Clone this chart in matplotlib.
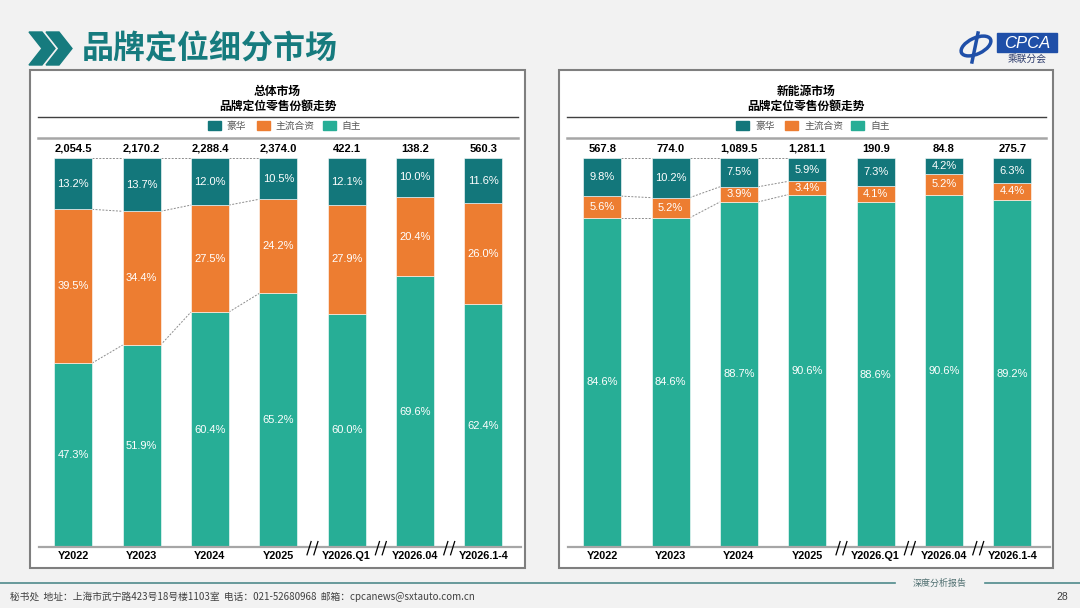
import numpy as np
import matplotlib.pyplot as plt
from matplotlib.patches import Rectangle, Polygon, Ellipse

plt.rcParams['font.family'] = ['Liberation Sans', 'Noto Sans CJK SC', 'DejaVu Sans']

# 数据
periods = ['Y2022', 'Y2023', 'Y2024', 'Y2025', 'Y2026.Q1', 'Y2026.04', 'Y2026.1-4']
series_names = ['豪华', '主流合资', '自主']

total_lux = [13.2, 13.7, 12.0, 10.5, 12.1, 10.0, 11.6]
total_jv = [39.5, 34.4, 27.5, 24.2, 27.9, 20.4, 26.0]
total_own = [47.3, 51.9, 60.4, 65.2, 60.0, 69.6, 62.4]
total_vol = [2054.5, 2170.2, 2288.4, 2374.0, 422.1, 138.2, 560.3]

nev_lux = [9.8, 10.2, 7.5, 5.9, 7.3, 4.2, 6.3]
nev_jv = [5.6, 5.2, 3.9, 3.4, 4.1, 5.2, 4.4]
nev_own = [84.6, 84.6, 88.7, 90.6, 88.6, 90.6, 89.2]
nev_vol = [567.8, 774.0, 1089.5, 1281.1, 190.9, 84.8, 275.7]

C_LUX = '#13777B'
C_JV = '#ED7D31'
C_OWN = '#27AE96'
TEAL = '#167B7E'

W, H = 1080, 608
fig = plt.figure(figsize=(W / 100, H / 100), dpi=100)
fig.patch.set_facecolor('#f2f2f2')

# 像素坐标的背景层
bg = fig.add_axes([0, 0, 1, 1])
bg.set_xlim(0, W)
bg.set_ylim(H, 0)
bg.axis('off')

# 标题和箭头
for dx in (0, 17):
    bg.add_patch(Polygon([(29 + dx, 32), (42 + dx, 32), (55 + dx, 48.5), (42 + dx, 65),
                          (29 + dx, 65), (42 + dx, 48.5)], closed=True, color=TEAL))
bg.text(82, 49, '品牌定位细分市场', fontsize=23, fontweight='bold', color=TEAL,
        va='center', ha='left', family=['Noto Sans CJK SC'])

# logo
bg.add_patch(Ellipse((976, 46), 32, 16, angle=-25, fill=False, ec='#1f4fa8', lw=2.5))
bg.plot([978, 972], [33, 62], color='#1f4fa8', lw=2.5)
bg.add_patch(Rectangle((997, 33), 60, 19, color='#1f4fa8'))
bg.text(1027, 43, 'CPCA', fontsize=12, color='white', style='italic', ha='center', va='center')
bg.text(1027, 59, '乘联分会', fontsize=7, color='#2b3a6b', ha='center', va='center',
        family=['Noto Sans CJK SC'])

# 底部
bg.plot([0, 895], [583, 583], color='#4f8a8b', lw=1.2)
bg.plot([985, W], [583, 583], color='#4f8a8b', lw=1.2)
bg.text(940, 583, '深度分析报告', fontsize=6.5, color='#4f6f70', ha='center', va='center',
        family=['Noto Sans CJK SC'])
bg.text(10, 597, '秘书处  地址：上海市武宁路423号18号楼1103室  电话：021-52680968  邮箱：cpcanews@sxtauto.com.cn',
        fontsize=7, color='#404040', ha='left', va='center', family=['Noto Sans CJK SC', 'DejaVu Sans'])
bg.text(1068, 597, '28', fontsize=7.5, color='#404040', ha='right', va='center')


def panel(x0, x1, title, lux, jv, own, vol):
    bg.add_patch(Rectangle((x0, 70), x1 - x0, 498, fc='white', ec='#7f7f7f', lw=1.5))
    cx = (x0 + x1) / 2
    bg.text(cx, 91, title, fontsize=8.5, fontweight='bold', ha='center', va='center',
            family=['Noto Sans CJK SC'])
    bg.text(cx, 106.5, '品牌定位零售份额走势', fontsize=8.5, fontweight='bold', ha='center',
            va='center', family=['Noto Sans CJK SC'])
    bg.plot([x0 + 8, x1 - 7], [117, 117], color='#404040', lw=1)
    bg.plot([x0 + 8, x1 - 7], [138, 138], color='#a6a6a6', lw=1.8)
    # 图例
    lx = cx - 70
    for name, col, off in zip(series_names, [C_LUX, C_JV, C_OWN], [0, 49, 115]):
        bg.add_patch(Rectangle((lx + off, 121), 13, 9, color=col))
        bg.text(lx + off + 19, 125.5, name, fontsize=7, color='#595959', va='center',
                family=['Noto Sans CJK SC'])

    ax = fig.add_axes([(x0 + 9) / W, (H - 547) / H, 482 / W, 389 / H])
    ax.set_xlim(-0.5, 6.55)
    ax.set_ylim(0, 100)
    x = np.arange(len(periods))
    bw = 0.555
    bottoms = np.zeros(len(periods))
    for vals, col in [(own, C_OWN), (jv, C_JV), (lux, C_LUX)]:
        vals = np.array(vals)
        ax.bar(x, vals, bw, bottom=bottoms, color=col, ec='white', lw=0.4, zorder=2)
        for xi, b, v in zip(x, bottoms, vals):
            ax.text(xi, b + v / 2, f'{v:.1f}%', color='white', fontsize=8,
                    ha='center', va='center', zorder=3)
        bottoms = bottoms + vals
    for xi, v in zip(x, vol):
        ax.annotate(f'{v:,.1f}', (xi, 100), xytext=(0, 3), textcoords='offset points',
                    ha='center', va='bottom', fontsize=8, fontweight='bold')
    # 连接虚线
    b1 = np.array(own)
    b2 = b1 + np.array(jv)
    for i in range(3):
        for lev in (b1, b2, np.full(len(periods), 100.0)):
            ax.plot([i + bw / 2, i + 1 - bw / 2], [lev[i], lev[i + 1]], color='#8c8c8c',
                    lw=0.7, ls=(0, (2, 1.5)), zorder=1)
    # 断轴标记
    tr = ax.get_xaxis_transform()
    for xb in (3.5, 4.5, 5.5):
        for d in (-0.05, 0.05):
            ax.plot([xb + d - 0.03, xb + d + 0.03], [-0.02, 0.014], color='black', lw=0.9,
                    transform=tr, clip_on=False, zorder=4)
    ax.set_xticks(x)
    ax.set_xticklabels(periods, fontsize=7.8, fontweight='bold')
    ax.tick_params(axis='x', length=0, pad=3)
    ax.set_yticks([])
    for s in ('top', 'right', 'left'):
        ax.spines[s].set_visible(False)
    ax.spines['bottom'].set_color('#a6a6a6')
    ax.spines['bottom'].set_linewidth(1.6)
    ax.set_facecolor('none')


panel(30, 525, '总体市场', total_lux, total_jv, total_own, total_vol)
panel(559, 1053, '新能源市场', nev_lux, nev_jv, nev_own, nev_vol)

fig.savefig('out.png', dpi=100, facecolor=fig.get_facecolor())
